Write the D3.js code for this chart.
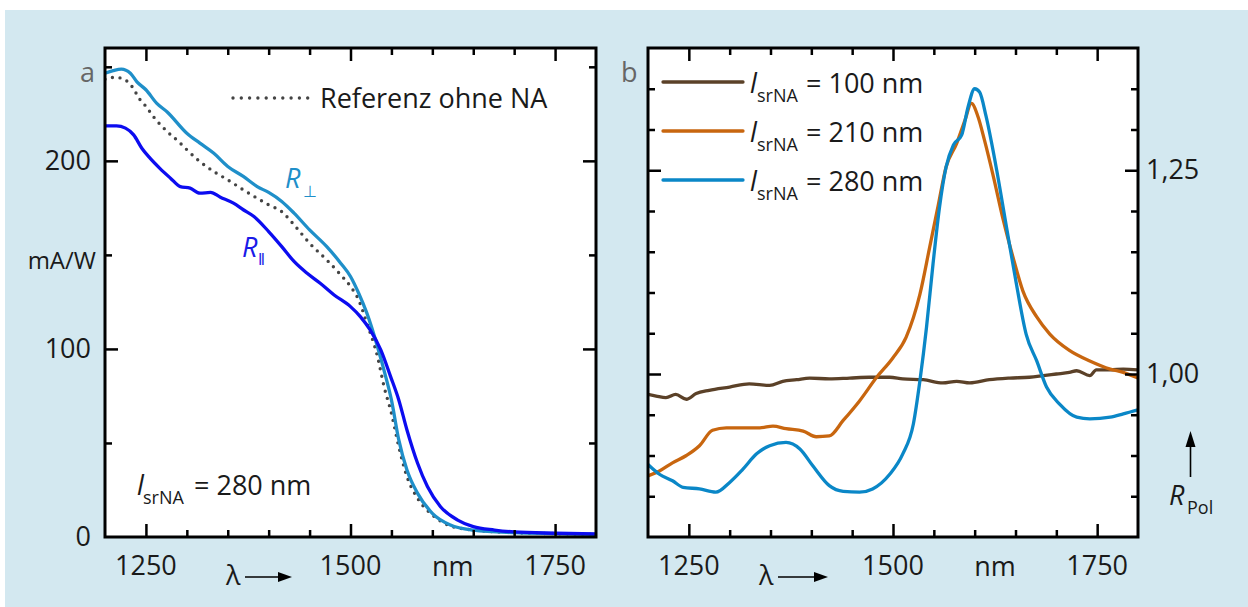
<!DOCTYPE html>
<html lang="de">
<head>
<meta charset="utf-8">
<title>Responsivity R_perp / R_par and R_Pol</title>
<script src="https://cdn.jsdelivr.net/npm/d3@7"></script>
<style>
  body{margin:0;background:#fff;}
  svg{display:block;font-family:"Open Sans",sans-serif;}
  .tick line{stroke:#000;stroke-width:2.5px;}
</style>
</head>
<body>
<div id="chart"></div>
<script>
// panel a: responsivity in mA/W, l_srNA = 280 nm
var perpWl  = [1200,1210,1220,1231,1239,1250,1263,1276,1300,1316,1333,1350,1369,1386,1400,1416,1431,1450,1471,1488,1500,1510,1520,1533,1543,1550,1559,1569,1582,1600,1622,1650,1700,1750,1800]
var perpVal = [246.6,248,248.8,246.6,242,237.8,230.7,226,214.7,209.4,204,197,191.7,186.3,183.2,178.4,172.2,163.3,154.4,145.6,138.5,129.6,119,101.2,85.3,72.9,51.6,35.6,23.2,12.6,6.4,3.7,2.3,1.8,1.4]

var refWl  = [1200,1210,1220,1233,1243,1250,1259,1276,1292,1300,1316,1333,1350,1369,1386,1400,1416,1431,1450,1471,1488,1500,1510,1520,1533,1541,1550,1559,1569,1582,1600,1622,1650,1700,1750,1800]
var refVal = [243.4,244.3,244,239.5,232.4,229,223.6,215.6,209.4,205.9,199.6,194.3,189.9,184.6,180.1,176.6,173,166,156.2,147.3,139.4,133.2,126,113.7,95.9,80,65.8,48,32.1,20.6,11.7,5.9,3.7,2.3,1.8,1.4]

var parWl  = [1200,1214,1225,1235,1245,1255,1267,1280,1292,1304,1316,1329,1341,1357,1369,1382,1400,1416,1431,1447,1463,1480,1500,1512,1524,1537,1549,1559,1569,1582,1594,1610,1631,1650,1676,1700,1750,1800]
var parVal = [218.6,218.6,217.4,213.8,206.7,201.4,196,190.8,186.3,185.5,182.8,183.2,180.7,177.5,174,170.4,162.4,154.4,146.5,140.2,134.9,128.7,122.5,117.2,110.1,99.5,85.3,72.9,56.9,39.2,26.8,16.1,9,5.5,3.7,2.7,2,1.6]

// panel b: R_Pol for three l_srNA
var brownWl  = [1200,1210,1222,1234,1247,1259,1275,1300,1324,1349,1365,1382,1398,1422,1447,1471,1496,1512,1537,1561,1578,1594,1618,1643,1667,1684,1700,1716,1725,1741,1749,1766,1782,1800]
var brownVal = [0.975,0.973,0.971,0.975,0.969,0.976,0.980,0.984,0.988,0.986,0.991,0.993,0.995,0.994,0.995,0.996,0.996,0.994,0.993,0.989,0.991,0.989,0.993,0.995,0.996,0.998,1.000,1.002,1.004,0.998,1.005,1.005,1.006,1.005]

var orangeWl  = [1200,1214,1230,1247,1263,1279,1296,1316,1337,1353,1369,1390,1406,1422,1439,1459,1480,1500,1516,1533,1545,1555,1565,1578,1588,1596,1604,1612,1623,1635,1647,1659,1676,1692,1716,1741,1766,1782,1800]
var orangeVal = [0.875,0.881,0.891,0.900,0.912,0.931,0.934,0.934,0.934,0.936,0.933,0.930,0.923,0.924,0.943,0.967,0.996,1.020,1.045,1.098,1.156,1.205,1.254,1.283,1.311,1.332,1.316,1.287,1.242,1.189,1.143,1.102,1.070,1.049,1.029,1.016,1.006,1.002,0.995]

var blueWl  = [1200,1214,1230,1243,1263,1283,1300,1316,1333,1349,1369,1386,1402,1422,1439,1459,1475,1496,1512,1525,1533,1541,1549,1557,1565,1574,1584,1592,1600,1606,1614,1627,1639,1651,1663,1676,1688,1704,1725,1741,1766,1782,1800]
var blueVal = [0.889,0.877,0.869,0.861,0.859,0.855,0.867,0.883,0.902,0.912,0.916,0.908,0.887,0.863,0.856,0.855,0.859,0.877,0.902,0.939,0.992,1.057,1.135,1.205,1.254,1.281,1.293,1.328,1.350,1.346,1.316,1.250,1.180,1.111,1.049,1.016,0.984,0.963,0.947,0.945,0.947,0.951,0.956]

var legendB = ["100","210","280"]

var xMajor = [1250,1500,1750]
var xMinor = [1300,1350,1400,1450,1550,1600,1650,1700]
var xLabels = [1250,1500,1750]
var yaMajor = [100,200]
var yaMinor = [50,150,250]
var yaLabels = [0,100,200]
var ybMajor = [1.00,1.25]
var ybMinor = [0.85,0.90,0.95,1.05,1.10,1.15,1.20,1.30,1.35]
var ybLabels = [1.00,1.25]

var W = 1248, H = 607
var A = {left:105, right:596, top:48, bottom:537}
var B = {left:648, right:1138, top:48, bottom:537}
var FS = 27

var svg = d3.select("#chart").append("svg").attr("width",W).attr("height",H)
svg.append("rect").attr("x",5).attr("y",10).attr("width",W-5).attr("height",H-10).attr("fill","#d3e8f0")

var xa = d3.scaleLinear().domain([1200,1800]).range([A.left,A.right])
var xb = d3.scaleLinear().domain([1200,1800]).range([B.left,B.right])
var ya = d3.scaleLinear().domain([0,260]).range([A.bottom,A.top])
var yb = d3.scaleLinear().domain([0.8,1.4]).range([B.bottom,B.top])

function zip(xs,ys){ return xs.map(function(d,i){ return [d,ys[i]] }) }

function panel(box,id){
  var g = svg.append("g")
  g.append("rect").attr("x",box.left).attr("y",box.top)
    .attr("width",box.right-box.left).attr("height",box.bottom-box.top).attr("fill","#fff")
  svg.append("clipPath").attr("id",id).append("rect").attr("x",box.left).attr("y",box.top)
    .attr("width",box.right-box.left).attr("height",box.bottom-box.top)
  return g
}

function ticks(g,box,x,y,xMaj,xMin,yMaj,yMin){
  var sets = [
    [d3.axisBottom(x).tickValues(xMaj).tickSize(-13),"translate(0,"+box.bottom+")"],
    [d3.axisBottom(x).tickValues(xMin).tickSize(-7),"translate(0,"+box.bottom+")"],
    [d3.axisTop(x).tickValues(xMaj).tickSize(-13),"translate(0,"+box.top+")"],
    [d3.axisTop(x).tickValues(xMin).tickSize(-7),"translate(0,"+box.top+")"],
    [d3.axisLeft(y).tickValues(yMaj).tickSize(-13),"translate("+box.left+",0)"],
    [d3.axisLeft(y).tickValues(yMin).tickSize(-7),"translate("+box.left+",0)"],
    [d3.axisRight(y).tickValues(yMaj).tickSize(-13),"translate("+box.right+",0)"],
    [d3.axisRight(y).tickValues(yMin).tickSize(-7),"translate("+box.right+",0)"]
  ]
  sets.forEach(function(s){
    var a = g.append("g").attr("transform",s[1]).call(s[0].tickFormat(""))
    a.select(".domain").remove()
  })
  g.append("rect").attr("x",box.left).attr("y",box.top)
    .attr("width",box.right-box.left).attr("height",box.bottom-box.top)
    .attr("fill","none").attr("stroke","#000").attr("stroke-width",3)
}

function drawLine(g,x,y,data,color,clip,dash){
  var line = d3.line().x(function(d){return x(d[0])}).y(function(d){return y(d[1])}).curve(d3.curveMonotoneX)
  var p = g.append("path").datum(data).attr("d",line).attr("fill","none")
    .attr("stroke",color).attr("clip-path","url(#"+clip+")")
  if(dash){
    p.attr("stroke-width",3.4).attr("stroke-dasharray","0 7.6").attr("stroke-linecap","round")
  } else {
    p.attr("stroke-width",3.3).attr("stroke-linejoin","round")
  }
  return p
}

function txt(x,y,s,size,opt){
  opt = opt || {}
  var t = svg.append("text").attr("x",x).attr("y",y).text(s).attr("font-size",size)
    .attr("fill",opt.fill||"#1a1a1a").attr("text-anchor",opt.anchor||"start")
  if(opt.italic) t.attr("font-style","italic")
  return t
}

function arrowRight(x1,x2,yy){
  svg.append("line").attr("x1",x1).attr("x2",x2-10).attr("y1",yy).attr("y2",yy).attr("stroke","#000").attr("stroke-width",1.6)
  svg.append("path").attr("d","M"+x2+","+yy+" L"+(x2-14)+","+(yy-5)+" L"+(x2-14)+","+(yy+5)+"Z").attr("fill","#000")
}

// ---- panel a
var ga = panel(A,"clipA")
drawLine(ga,xa,ya,zip(refWl,refVal),"#444","clipA",true)
drawLine(ga,xa,ya,zip(perpWl,perpVal),"#1f8fc9","clipA")
drawLine(ga,xa,ya,zip(parWl,parVal),"#0c0cf0","clipA")
ticks(ga,A,xa,ya,xMajor,xMinor,yaMajor,yaMinor)

xLabels.forEach(function(v){ txt(xa(v),575,v,FS,{anchor:"middle"}) })
txt(xa(1625),576,"nm",FS,{anchor:"middle"})
yaLabels.forEach(function(v){ txt(91,ya(v)+9,v,FS,{anchor:"end"}) })
txt(96,ya(147)+8,"mA/W",24,{anchor:"end"})
txt(80,82,"a",FS,{fill:"#666"})
txt(226,585,"λ",FS)
arrowRight(245,292,577)

// legend dotted line
ga.append("line").attr("x1",233).attr("x2",308).attr("y1",98).attr("y2",98)
  .attr("stroke","#444").attr("stroke-width",3.4).attr("stroke-dasharray","0 8.3").attr("stroke-linecap","round")
txt(320,108,"Referenz ohne NA",FS)

txt(285,188,"R",FS,{fill:"#1f8fc9",italic:true})
txt(303,197,"⊥",16,{fill:"#1f8fc9"})
txt(242,257,"R",FS,{fill:"#1a1ae8",italic:true})
txt(258,265,"‖",17,{fill:"#1a1ae8"})

txt(137,495,"l",FS,{italic:true})
txt(143,504,"srNA",18)
txt(194,495,"= 280 nm",FS)

// ---- panel b
var gb = panel(B,"clipB")
var seriesB = [[brownWl,brownVal,"#5b4128"],[orangeWl,orangeVal,"#c8660f"],[blueWl,blueVal,"#0a87c7"]]
seriesB.forEach(function(s){ drawLine(gb,xb,yb,zip(s[0],s[1]),s[2],"clipB") })
ticks(gb,B,xb,yb,xMajor,xMinor,ybMajor,ybMinor)

xLabels.forEach(function(v){ txt(xb(v),575,v,FS,{anchor:"middle"}) })
txt(xb(1625),576,"nm",FS,{anchor:"middle"})
ybLabels.forEach(function(v){ txt(B.right+8,yb(v)+9,d3.format(".2f")(v).replace(".",","),FS) })
txt(621,82,"b",FS,{fill:"#666"})
txt(759,585,"λ",FS)
arrowRight(778,828,577)

// legend b
seriesB.forEach(function(s,i){
  var yy = 82 + i*49
  svg.append("line").attr("x1",663).attr("x2",743).attr("y1",yy).attr("y2",yy)
    .attr("stroke",s[2]).attr("stroke-width",3.3).attr("stroke-linecap","round")
  txt(750,yy+11,"l",FS,{italic:true})
  txt(757,yy+20,"srNA",18)
  txt(806,yy+11,"= "+legendB[i]+" nm",FS)
})

// R_Pol arrow
svg.append("line").attr("x1",1190.5).attr("x2",1190.5).attr("y1",477).attr("y2",444).attr("stroke","#000").attr("stroke-width",1.6)
svg.append("path").attr("d","M1190.5,431 L1185.5,447 L1195.5,447Z").attr("fill","#000")
txt(1169,505,"R",FS,{italic:true})
txt(1187,514,"Pol",18)
</script>
</body>
</html>
